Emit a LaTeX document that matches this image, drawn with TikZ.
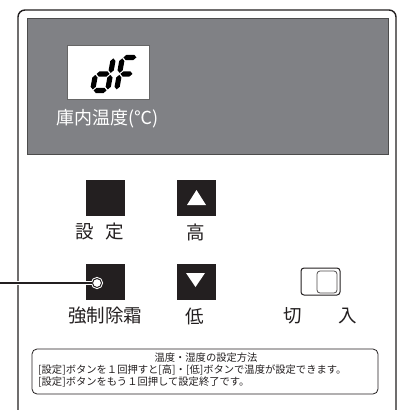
\documentclass[tikz,border=0pt]{standalone}
\usepackage{fontspec}
\setmainfont{Noto Sans CJK JP}
\usetikzlibrary{positioning}
\definecolor{dispgray}{RGB}{128,129,133}
\definecolor{btnblack}{RGB}{35,31,32}
\tikzset{
	% panel and display
	panel/.style={draw=btnblack,line width=1.4pt,rounded corners=7pt},
	display/.style={fill=dispgray,draw=black!70,line width=0.5pt},
	% buttons
	btn/.style={fill=btnblack,draw=none,minimum width=39pt,minimum height=36pt,inner sep=0pt},
	lbl/.style={font=\fontsize{18.5}{20}\selectfont,text=btnblack,inner sep=0pt},
	note/.style={font=\fontsize{10.3}{12}\selectfont,text=btnblack,inner sep=0pt},
	seg/.style={fill=black},
}
% seven segment pieces (local coords, y down)
\newcommand{\hseg}[3]{\fill[seg] (#1+1,#3) -- (#1+3.6,#3-2.6) -- (#2-3.6,#3-2.6) -- (#2-1,#3) -- (#2-3.6,#3+2.6) -- (#1+3.6,#3+2.6) -- cycle;}
\newcommand{\vseg}[3]{\fill[seg] (#1,#2+1) -- (#1+2.6,#2+3.6) -- (#1+2.6,#3-3.6) -- (#1,#3-1) -- (#1-2.6,#3-3.6) -- (#1-2.6,#2+3.6) -- cycle;}
\begin{document}
\begin{tikzpicture}[x=1pt,y=-1pt]
	\useasboundingbox (0,0) rectangle (403,410);
	\fill[white] (0,0) rectangle (403,410);
	
	% panel
	\draw[panel] (18,410) -- (18,10) -- (396,10) -- (396,410);
	\draw[display] (27,18) rectangle (388,154);
	\draw[fill=white,draw=black!60,line width=0.5pt] (67,45) rectangle (149,99);
	
	% dF
	\begin{scope}[shift={(92.6,90.4)},xslant=0.18]
		\vseg{15}{-33}{-16.5}
		\vseg{15}{-16.5}{0}
		\hseg{0}{15}{0}
		\vseg{0}{-16.5}{0}
		\hseg{0}{15}{-16.5}
	\end{scope}
	\begin{scope}[shift={(116.5,90.4)},xslant=0.18]
		\hseg{0}{15}{-33}
		\vseg{0}{-33}{-16.5}
		\vseg{0}{-16.5}{0}
		\hseg{0}{14}{-16.5}
	\end{scope}
	\node[font=\fontsize{18}{20}\selectfont,text=white,inner sep=0pt] (templbl) at (107.5,119) {庫内温度(℃)};
	
	% buttons
	\node[btn] (setbtn) at (105.5,198) {};
	\node[btn] (upbtn) at (196,198) {};
	\node[btn] (defbtn) at (105.5,282) {};
	\node[btn] (downbtn) at (196,282) {};
	\fill[white] (196.5,190) -- (206,205) -- (187,205) -- cycle;
	\fill[white] (195.5,287) -- (186,273) -- (205,273) -- cycle;
	
	\node[lbl] (setlbl) at (100,232) {設\hspace{0.65em}定};
	\node[lbl] (uplbl) at (196,232) {高};
	\node[lbl] (deflbl) at (105,316) {強制除霜};
	\node[lbl] (downlbl) at (195,316) {低};
	
	% defrost lamp
	\node[circle,draw=btnblack,fill=white,line width=1pt,minimum size=9pt,inner sep=0pt,
		preaction={draw=white,line width=3pt}] (lamp) at (97,283) {};
	\coordinate (leadend) at (0,283);
	\draw[btnblack,line width=1.3pt,preaction={draw=white,line width=3.5pt}] (leadend) -- (lamp.west);
	
	% switch
	\draw[btnblack,line width=1pt,rounded corners=3pt] (301,268) rectangle (340,295);
	\draw[btnblack!80,line width=0.8pt,rounded corners=3pt] (317,271) rectangle (337,293);
	\node[lbl] (offlbl) at (293,316) {切};
	\node[lbl] (onlbl) at (348,316) {入};
	
	% note box
	\draw[btnblack,line width=0.8pt,rounded corners=5pt] (32,349) rectangle (378,394);
	\node[note] (notehead) at (206,358) {温度・湿度の設定方法};
	\node[note,anchor=west] (noteone) at (38,370) {[設定]ボタンを１回押すと[高]・[低]ボタンで温度が設定できます。};
	\node[note,anchor=west] (notetwo) at (38,382) {[設定]ボタンをもう１回押して設定終了です。};
\end{tikzpicture}
\end{document}
